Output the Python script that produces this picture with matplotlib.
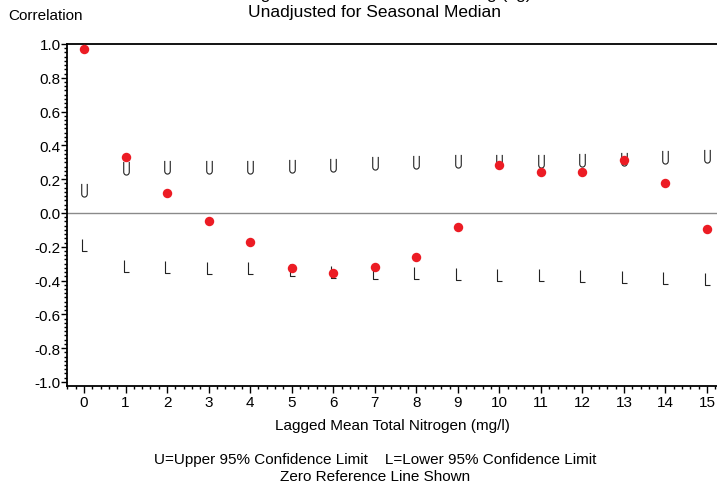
import numpy as np
import matplotlib
matplotlib.use("Agg")
import matplotlib.pyplot as plt
from matplotlib.path import Path
from matplotlib.ticker import MultipleLocator, FormatStrFormatter

plt.rcParams['font.family'] = ['Liberation Sans', 'DejaVu Sans']
plt.rcParams['axes.unicode_minus'] = False

lags = [0, 1, 2, 3, 4, 5, 6, 7, 8, 9, 10, 11, 12, 13, 14, 15]
correlation = [0.970, 0.331, 0.118, -0.047, -0.170, -0.323, -0.355, -0.318,
               -0.262, -0.081, 0.286, 0.241, 0.241, 0.315, 0.179, -0.097]
upper95 = [0.138, 0.264, 0.270, 0.274, 0.274, 0.280, 0.286, 0.296,
           0.304, 0.308, 0.310, 0.310, 0.315, 0.320, 0.330, 0.335]
lower95 = [-0.190, -0.312, -0.320, -0.324, -0.324, -0.335, -0.347, -0.355,
           -0.357, -0.361, -0.365, -0.365, -0.371, -0.376, -0.385, -0.389]

title_line1 = "Change in Total Nitrate and Loading (kg)"
title_line2 = "Unadjusted for Seasonal Median"
y_label = "Correlation"
x_label = "Lagged Mean Total Nitrogen (mg/l)"
foot1 = "U=Upper 95% Confidence Limit    L=Lower 95% Confidence Limit"
foot2 = "Zero Reference Line Shown"

# narrow letter-shaped markers
t = np.linspace(np.pi, 2 * np.pi, 12)
u_verts = [(-0.42, 1.0)] + [(0.42 * np.cos(a), -0.55 + 0.45 * np.sin(a)) for a in t] + [(0.42, 1.0)]
u_marker = Path(u_verts)
l_marker = Path([(-0.4, 1.0), (-0.4, -1.0), (0.45, -1.0)])

W, H = 717, 485
fig = plt.figure(figsize=(W / 100, H / 100), dpi=100)
ax = fig.add_axes([67 / W, 1 - 387 / H, (717 - 67) / W, (387 - 45) / H])

ax.set_xlim(-0.41, 15.24)
ax.set_ylim(-1.024, 1.0)

ax.axhline(0, color='#8a8a8a', lw=1.0, zorder=1)

ax.plot(lags, upper95, linestyle='none', marker=u_marker, markersize=9.5,
        markerfacecolor='none', markeredgecolor='#222222', markeredgewidth=0.8, zorder=2)
ax.plot(lags, lower95, linestyle='none', marker=l_marker, markersize=9.0,
        markerfacecolor='none', markeredgecolor='#222222', markeredgewidth=0.8, zorder=2)
ax.plot(lags, correlation, linestyle='none', marker='o', markersize=6.8,
        markerfacecolor='#ec1c24', markeredgecolor='#ec1c24', markeredgewidth=0, zorder=3)

for side in ['left', 'bottom', 'top']:
    ax.spines[side].set_linewidth(1.3)
    ax.spines[side].set_color('black')
ax.spines['right'].set_visible(False)

ax.xaxis.set_major_locator(MultipleLocator(1))
ax.xaxis.set_minor_locator(MultipleLocator(0.2))
ax.yaxis.set_major_locator(MultipleLocator(0.2))
ax.yaxis.set_minor_locator(MultipleLocator(0.025))
ax.yaxis.set_major_formatter(FormatStrFormatter('%.1f'))
ax.tick_params(axis='x', which='major', direction='out', length=5, width=1, pad=1.5, labelsize=11)
ax.tick_params(axis='x', which='minor', direction='out', length=2.5, width=1)
ax.tick_params(axis='y', which='major', direction='out', length=4, width=1, pad=0.5, labelsize=11)
ax.tick_params(axis='y', which='minor', direction='out', length=2.5, width=1)
ax.tick_params(top=False, right=False, which='both')

fig.text(375 / W, 1 + 1.5 / H, title_line1, ha='center', va='baseline', fontsize=12.5)
fig.text(375 / W, 1 - 12 / H, title_line2, ha='center', va='center', fontsize=12.5)
fig.text(8 / W, 1 - 16 / H, y_label, ha='left', va='center', fontsize=11)
fig.text(392 / W, 1 - 426 / H, x_label, ha='center', va='center', fontsize=11)
fig.text(375 / W, 1 - 460 / H, foot1, ha='center', va='center', fontsize=11)
fig.text(375 / W, 1 - 477 / H, foot2, ha='center', va='center', fontsize=11)

fig.savefig("out.png", dpi=100)
